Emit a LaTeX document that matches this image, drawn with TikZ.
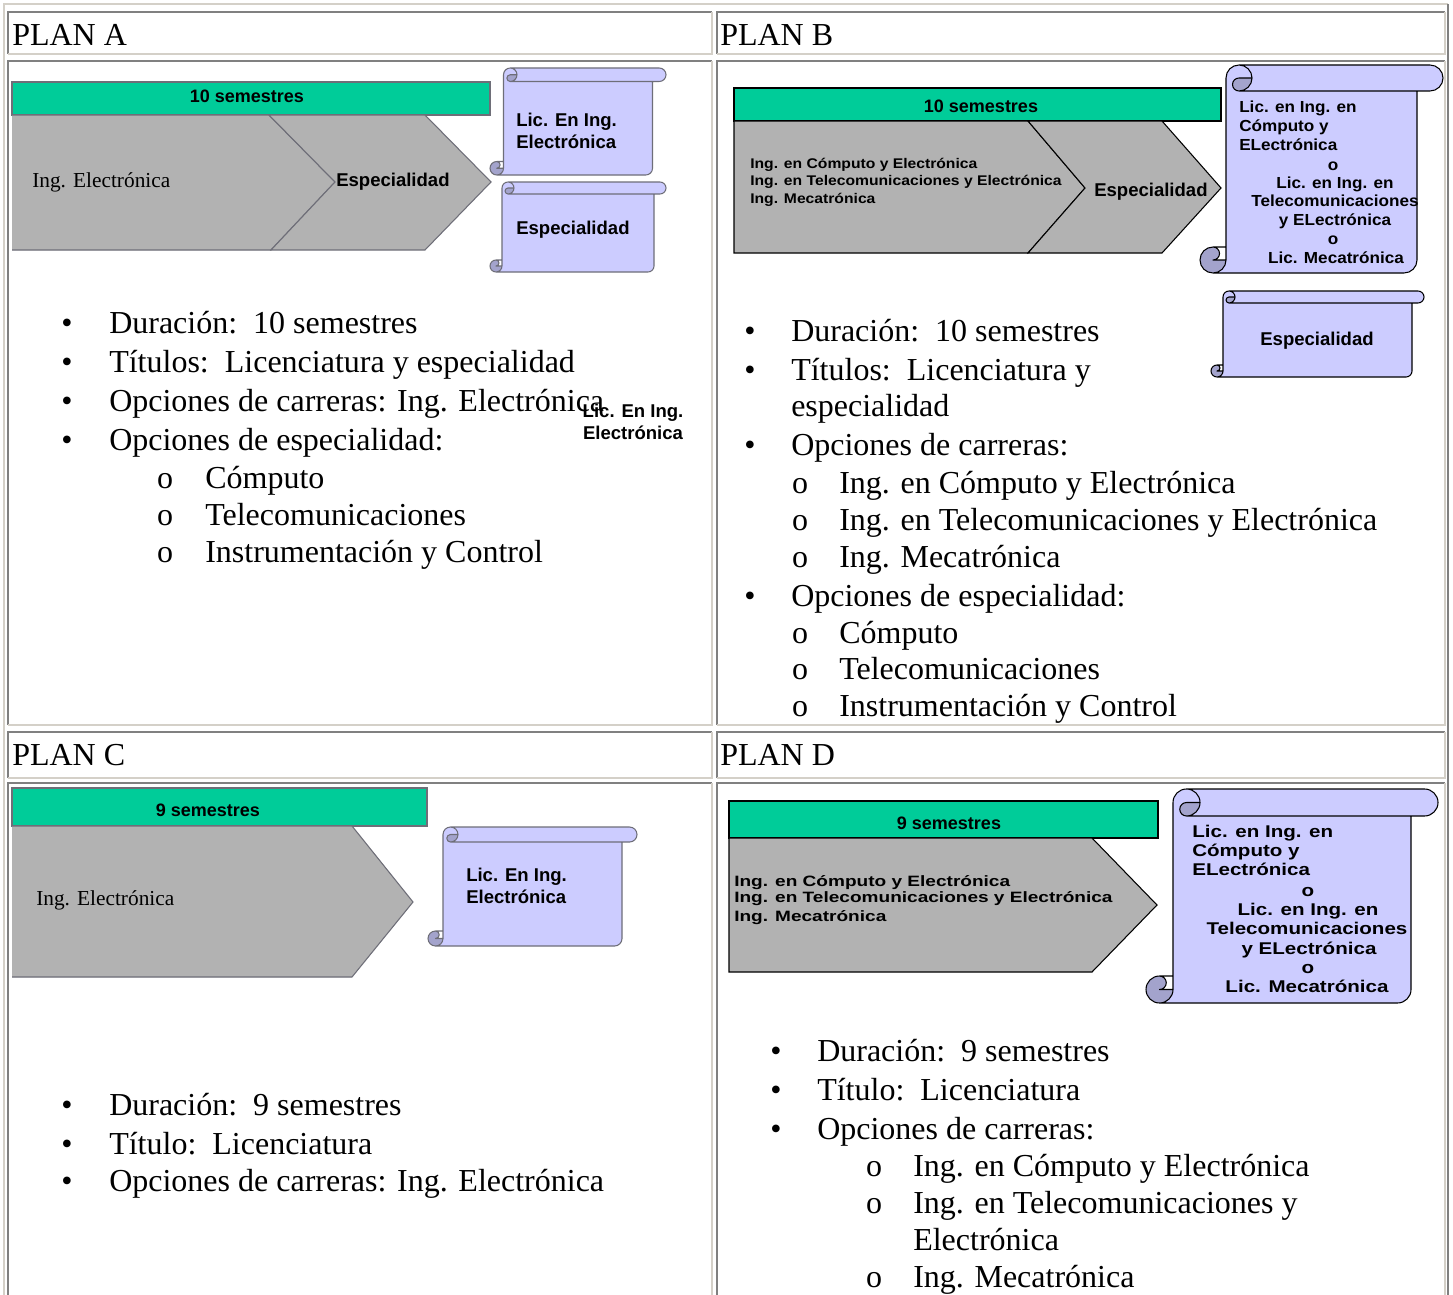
\documentclass[tikz,border=0pt]{standalone}
\usepackage{fontspec}
\setmainfont{Liberation Serif}
\newfontfamily\arialf{Liberation Sans}
\usepackage{graphicx}
\definecolor{grn}{HTML}{00CC99}
\definecolor{chev}{HTML}{B2B2B2}
\definecolor{lav}{HTML}{CCCCFF}
\definecolor{lavd}{HTML}{A3A3CC}
\definecolor{tdark}{HTML}{808080}
\definecolor{tlight}{HTML}{D4D0C8}
\definecolor{softedge}{HTML}{6E6E78}
\newcommand{\tcell}[4]{%
  \draw[tdark,line width=1.5pt] (#1,#4) -- (#1,#2) -- (#3,#2);
  \draw[tlight,line width=1.5pt] (#3,#2) -- (#3,#4) -- (#1,#4);}
% vertical scroll: l, t, r, b, ch, stroke colour
\newcommand{\vscroll}[6]{%
\begin{scope}[shift={(#1,#2)}]
  \pgfmathsetmacro{\sW}{#3-#1}
  \pgfmathsetmacro{\sH}{#4-#2}
  \pgfmathsetmacro{\sC}{#5}
  \pgfmathsetmacro{\sCh}{#5/2}
  \pgfmathsetmacro{\sCq}{#5/4}
  \pgfmathsetmacro{\sXiii}{1.5*#5}
  \pgfmathsetmacro{\sXiv}{2*#5}
  \pgfmathsetmacro{\sXvi}{\sW-#5}
  \pgfmathsetmacro{\sXvii}{\sW-#5/2}
  \pgfmathsetmacro{\sYiii}{\sH-#5}
  \pgfmathsetmacro{\sYiv}{\sH-#5/2}
  \fill[lav] (\sCh,\sH) arc[start angle=90,delta angle=-90,radius=\sCh] -- (\sC,\sCh)
     arc[start angle=180,delta angle=90,radius=\sCh] -- (\sXvii,0)
     arc[start angle=270,delta angle=180,radius=\sCh] -- (\sXvi,\sC) -- (\sXvi,\sYiv)
     arc[start angle=0,delta angle=90,radius=\sCh] -- cycle;
  \fill[lav] (\sXiv,\sCh) arc[start angle=0,delta angle=90,radius=\sCh]
     arc[start angle=90,delta angle=180,radius=\sCq] -- cycle;
  \fill[lavd] (\sXiv,\sCh) arc[start angle=0,delta angle=90,radius=\sCh]
     arc[start angle=90,delta angle=180,radius=\sCq] -- cycle;
  \fill[lavd] (\sC,\sYiv) arc[start angle=0,delta angle=270,radius=\sCh]
     arc[start angle=270,delta angle=180,radius=\sCq] -- cycle;
  \draw[#6,line width=0.8pt,line join=round]
     (\sC,\sYiii) -- (\sC,\sCh) arc[start angle=180,delta angle=90,radius=\sCh] -- (\sXvii,0)
     arc[start angle=270,delta angle=180,radius=\sCh] -- (\sXvi,\sC) -- (\sXvi,\sYiv)
     arc[start angle=0,delta angle=90,radius=\sCh] -- (\sCh,\sH)
     arc[start angle=90,delta angle=180,radius=\sCh] -- cycle
     (\sXiii,0) arc[start angle=270,delta angle=180,radius=\sCh]
     arc[start angle=90,delta angle=180,radius=\sCq] -- (\sXiv,\sCh)
     (\sXvi,\sC) -- (\sXiii,\sC)
     (\sCh,\sYiii) arc[start angle=270,delta angle=180,radius=\sCq] -- (\sC,\sYiv)
     (\sCh,\sH) arc[start angle=90,delta angle=-90,radius=\sCh] -- (\sC,\sYiii);
\end{scope}}
\newcommand{\sxB}[1]{\scalebox{1.12}[1]{#1}}
\newcommand{\sxBs}[1]{\scalebox{1.07}[1]{#1}}
\newcommand{\sxD}[1]{\scalebox{1.27}[1]{#1}}
\newcommand{\sxDs}[1]{\scalebox{1.21}[1]{#1}}
\begin{document}
\begin{tikzpicture}[x=0.75pt,y=-0.75pt,
  body/.style={font=\fontsize{24}{28}\selectfont, anchor=mid west, inner sep=0pt, yshift=-3.75pt},
  hdr/.style={font=\fontsize{24}{28}\selectfont, anchor=mid west, inner sep=0pt, yshift=-4.5pt},
  bul/.style={font=\fontsize{24}{28}\selectfont, anchor=mid, inner sep=0pt, yshift=-3.75pt},
  chevtxt/.style={font=\fontsize{16}{19}\selectfont, anchor=mid west, inner sep=0pt, yshift=-3pt},
  sb/.style={font=\arialf\bfseries\fontsize{13.9}{16.5}\selectfont, inner sep=0pt, yshift=-1.8pt},
  bartxt/.style={font=\arialf\bfseries\fontsize{13.5}{16}\selectfont, inner sep=0pt, anchor=mid, yshift=-1.5pt},
  bchev/.style={font=\arialf\bfseries\fontsize{10.5}{12}\selectfont, anchor=mid west, inner sep=0pt, yshift=-0.75pt},
  bscr/.style={font=\arialf\bfseries\fontsize{12}{14}\selectfont, inner sep=0pt, yshift=-0.75pt},
  dchev/.style={font=\arialf\bfseries\fontsize{11.25}{13}\selectfont, anchor=mid west, inner sep=0pt, yshift=-0.5pt},
  dscr/.style={font=\arialf\bfseries\fontsize{12.75}{15}\selectfont, inner sep=0pt, yshift=-0.5pt},
  greenbar/.style={fill=grn,draw=black,line width=0.8pt},
  greenbarA/.style={fill=grn,draw=softedge,line width=0.8pt},
  chevB/.style={fill=chev,draw=black,line width=0.8pt,line join=miter},
  chevA/.style={fill=chev,draw=softedge,line width=0.8pt,line join=miter}]
\useasboundingbox (0,0) rectangle (1453,1295);
\fill[white] (0,0) rectangle (1453,1295);
% ---------- table ----------
\draw[tlight,line width=1.5pt] (3.5,1300) -- (3.5,4) -- (1448,4);
\draw[tdark,line width=1.5pt] (1448,4) -- (1448,1300);
\tcell{8}{12}{712}{54}
\tcell{717}{12}{1445}{54}
\tcell{8}{61}{712}{725}
\tcell{717}{61}{1445}{725}
\tcell{8}{732}{712}{778}
\tcell{717}{732}{1445}{778}
\tcell{8}{783}{712}{1310}
\tcell{717}{783}{1445}{1310}
\node[hdr] (hA) at (12,36) {PLAN A};
\node[hdr] (hB) at (720,36) {PLAN B};
\node[hdr] (hC) at (12,756) {PLAN C};
\node[hdr] (hD) at (720,756) {PLAN D};
% ---------- PLAN A diagram ----------
\draw[greenbarA] (12,82) rectangle (490,115);
\node[bartxt] (aBar) at (247,97) {10 semestres};
\fill[chev] (12,115) -- (269,115) -- (335,182) -- (271,250) -- (12,250) -- cycle;
\draw[chevA] (12,115) -- (269,115) -- (335,182) -- (271,250) -- (12,250);
\draw[chevA] (269,115) -- (425,115) -- (491,182) -- (425,250) -- (271,250) -- (335,182) -- cycle;
\node[chevtxt] (aIng) at (32,180) {Ing. Electrónica};
\node[sb,anchor=mid west] (aEsp) at (336,181) {Especialidad};
\vscroll{490}{68}{666}{175}{13.5}{softedge}
\vscroll{490}{182}{666}{272}{12}{softedge}
\node[sb,anchor=north west,align=left] (aLic) at (516,110) {Lic. En Ing.\\Electrónica};
\node[sb,anchor=mid west] (aEsp2) at (516,229) {Especialidad};
% PLAN A list
\node[bul] (aB1) at (67,325) {•};
\node[body] (aT1) at (109,325) {Duración:\ \ 10 semestres};
\node[bul] (aB2) at (67,364) {•};
\node[body] (aT2) at (109,364) {Títulos:\ \ Licenciatura y especialidad};
\node[bul] (aB3) at (67,403) {•};
\node[body] (aT3) at (109,403) {Opciones de carreras: Ing. Electrónica};
\node[bul] (aB4) at (67,442) {•};
\node[body] (aT4) at (109,442) {Opciones de especialidad:};
\node[bul] (aO1) at (165,480) {o};
\node[body] (aS1) at (205,480) {Cómputo};
\node[bul] (aO2) at (165,517) {o};
\node[body] (aS2) at (205,517) {Telecomunicaciones};
\node[bul] (aO3) at (165,554) {o};
\node[body] (aS3) at (205,554) {Instrumentación y Control};
\node[sb,align=center,anchor=north] (aLic2) at (633,401) {Lic. En Ing.\\Electrónica};
% ---------- PLAN B diagram ----------
\draw[greenbar] (734,88) rectangle (1221,121);
\node[bartxt] (bBar) at (981,107) {10 semestres};
\draw[chevB] (734,121) -- (1028,121) -- (1085,188) -- (1028,253) -- (734,253) -- cycle;
\draw[chevB] (1028,121) -- (1162,121) -- (1221,188) -- (1162,253) -- (1028,253) -- (1085,188) -- cycle;
\node[bchev] (bC1) at (750,164) {\sxB{Ing. en Cómputo y Electrónica}};
\node[bchev] (bC2) at (750,181) {\sxB{Ing. en Telecomunicaciones y Electrónica}};
\node[bchev] (bC3) at (750,199) {\sxB{Ing. Mecatrónica}};
\node[sb,anchor=mid west] (bEsp) at (1094,191) {Especialidad};
\vscroll{1200}{65}{1443}{273}{26}{black}
\node[bscr,anchor=mid west] (bL1) at (1239,108) {\sxBs{Lic. en Ing. en}};
\node[bscr,anchor=mid west] (bL2) at (1239,127) {\sxBs{Cómputo y}};
\node[bscr,anchor=mid west] (bL3) at (1239,146) {\sxBs{ELectrónica}};
\node[bscr,anchor=mid] (bL4) at (1333,166) {\sxBs{o}};
\node[bscr,anchor=mid] (bL5) at (1335,184) {\sxBs{Lic. en Ing. en}};
\node[bscr,anchor=mid] (bL6) at (1335,202) {\sxBs{Telecomunicaciones}};
\node[bscr,anchor=mid] (bL7) at (1335,221) {\sxBs{y ELectrónica}};
\node[bscr,anchor=mid] (bL8) at (1333,240) {\sxBs{o}};
\node[bscr,anchor=mid] (bL9) at (1336,259) {\sxBs{Lic. Mecatrónica}};
\vscroll{1211}{291}{1424}{377}{12}{black}
\node[sb,anchor=mid] (bEsp2) at (1317,340) {Especialidad};
% PLAN B list
\node[bul] (bB1) at (750,333) {•};
\node[body] (bT1) at (791,333) {Duración:\ \ 10 semestres};
\node[bul] (bB2) at (750,372) {•};
\node[body] (bT2) at (791,372) {Títulos:\ \ Licenciatura y};
\node[body] (bT2b) at (791,408) {especialidad};
\node[bul] (bB3) at (750,447) {•};
\node[body] (bT3) at (791,447) {Opciones de carreras:};
\node[bul] (bO1) at (800,485) {o};
\node[body] (bS1) at (839,485) {Ing. en Cómputo y Electrónica};
\node[bul] (bO2) at (800,522) {o};
\node[body] (bS2) at (839,522) {Ing. en Telecomunicaciones y Electrónica};
\node[bul] (bO3) at (800,559) {o};
\node[body] (bS3) at (839,559) {Ing. Mecatrónica};
\node[bul] (bB4) at (750,598) {•};
\node[body] (bT4) at (791,598) {Opciones de especialidad:};
\node[bul] (bO4) at (800,635) {o};
\node[body] (bS4) at (839,635) {Cómputo};
\node[bul] (bO5) at (800,671) {o};
\node[body] (bS5) at (839,671) {Telecomunicaciones};
\node[bul] (bO6) at (800,708) {o};
\node[body] (bS6) at (839,708) {Instrumentación y Control};
% ---------- PLAN C diagram ----------
\draw[greenbarA] (12,788) rectangle (427,826);
\node[bartxt] (cBar) at (208,811) {9 semestres};
\fill[chev] (12,826) -- (352,826) -- (413,902) -- (352,977) -- (12,977) -- cycle;
\draw[chevA] (12,826) -- (352,826) -- (413,902) -- (352,977) -- (12,977);
\node[chevtxt] (cIng) at (36,898) {Ing. Electrónica};
\vscroll{428}{827}{637}{946}{15}{softedge}
\node[sb,anchor=north west,align=left] (cLic) at (466,865) {Lic. En Ing.\\Electrónica};
% PLAN C list
\node[bul] (cB1) at (67,1107) {•};
\node[body] (cT1) at (109,1107) {Duración:\ \ 9 semestres};
\node[bul] (cB2) at (67,1146) {•};
\node[body] (cT2) at (109,1146) {Título:\ \ Licenciatura};
\node[bul] (cB3) at (67,1183) {•};
\node[body] (cT3) at (109,1183) {Opciones de carreras: Ing. Electrónica};
% ---------- PLAN D diagram ----------
\draw[greenbar] (729,801) rectangle (1158,838);
\node[bartxt] (dBar) at (949,824) {9 semestres};
\draw[chevB] (729,838) -- (1092,838) -- (1157,905) -- (1092,972) -- (729,972) -- cycle;
\node[dchev] (dC1) at (734,883) {\sxD{Ing. en Cómputo y Electrónica}};
\node[dchev] (dC2) at (734,899) {\sxD{Ing. en Telecomunicaciones y Electrónica}};
\node[dchev] (dC3) at (734,918) {\sxD{Ing. Mecatrónica}};
\vscroll{1146}{789}{1438}{1003}{27}{black}
\node[dscr,anchor=mid west] (dL1) at (1192,834) {\sxDs{Lic. en Ing. en}};
\node[dscr,anchor=mid west] (dL2) at (1192,853) {\sxDs{Cómputo y}};
\node[dscr,anchor=mid west] (dL3) at (1192,872) {\sxDs{ELectrónica}};
\node[dscr,anchor=mid] (dL4) at (1308,893) {\sxDs{o}};
\node[dscr,anchor=mid] (dL5) at (1308,912) {\sxDs{Lic. en Ing. en}};
\node[dscr,anchor=mid] (dL6) at (1307,931) {\sxDs{Telecomunicaciones}};
\node[dscr,anchor=mid] (dL7) at (1309,951) {\sxDs{y ELectrónica}};
\node[dscr,anchor=mid] (dL8) at (1308,970) {\sxDs{o}};
\node[dscr,anchor=mid] (dL9) at (1307,989) {\sxDs{Lic. Mecatrónica}};
% PLAN D list
\node[bul] (dB1) at (776,1053) {•};
\node[body] (dT1) at (817,1053) {Duración:\ \ 9 semestres};
\node[bul] (dB2) at (776,1092) {•};
\node[body] (dT2) at (817,1092) {Título:\ \ Licenciatura};
\node[bul] (dB3) at (776,1131) {•};
\node[body] (dT3) at (817,1131) {Opciones de carreras:};
\node[bul] (dO1) at (874,1168) {o};
\node[body] (dS1) at (913,1168) {Ing. en Cómputo y Electrónica};
\node[bul] (dO2) at (874,1205) {o};
\node[body] (dS2) at (913,1205) {Ing. en Telecomunicaciones y};
\node[body] (dS2b) at (913,1242) {Electrónica};
\node[bul] (dO3) at (874,1279) {o};
\node[body] (dS3) at (913,1279) {Ing. Mecatrónica};
\end{tikzpicture}
\end{document}
